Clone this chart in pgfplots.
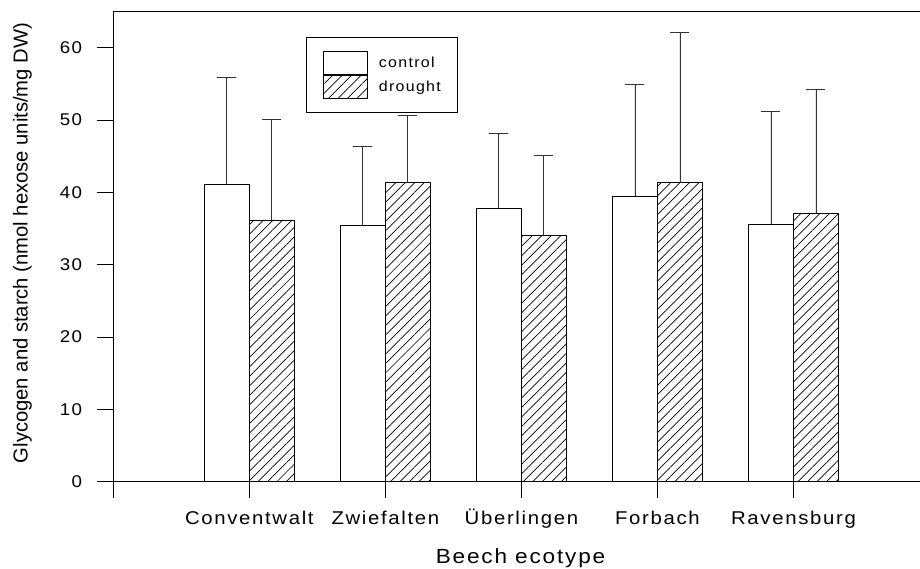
\documentclass[border=0pt]{standalone}
\usepackage{fontspec}
\setmainfont{Liberation Sans}
\newfontfamily\wfont{Liberation Sans}[FakeStretch=1.1, LetterSpace=9]
\usepackage{pgfplots}
\usepackage{pgfplotstable}
\pgfplotsset{compat=1.18}
\usetikzlibrary{patterns.meta}

\pgfplotstableread{
x y e
1 41.12 14.74
2 35.49 10.92
3 37.84 10.27
4 39.50 15.35
5 35.63 15.62
}\control
\pgfplotstableread{
x y e
1 36.18 13.92
2 41.34 9.31
3 34.06 11.01
4 41.34 20.79
5 37.11 17.09
}\drought

\begin{document}
\begin{tikzpicture}
\path[use as bounding box] (0pt,0pt) rectangle (920pt,569pt);
\begin{axis}[
  at={(113.3pt,87.3pt)}, anchor=south west,
  scale only axis, width=806.7pt, height=470.7pt,
  xmin=0, xmax=5.93, ymin=0, ymax=65.07,
  axis x line=box, axis y line*=left,
  xtick pos=bottom, ytick pos=left,
  axis line style={line width=0.9pt, black},
  tick align=outside,
  major tick length=16pt,
  tick style={line width=0.9pt, black},
  xtick={0,1,2,3,4,5},
  xticklabels={{},Conventwalt,Zwiefalten,Überlingen,Forbach,Ravensburg},
  ytick={0,10,20,30,40,50,60},
  /pgf/number format/assume math mode=true,
  yticklabel style={font=\wfont\fontsize{17}{17}\selectfont, inner sep=0pt, xshift=-15pt},
  xticklabel style={font=\wfont\fontsize{18.5}{19}\selectfont, anchor=base, inner sep=0pt, yshift=-27pt},
  xlabel={Beech ecotype},
  ylabel={Glycogen and starch (nmol hexose units/mg DW)},
  xlabel style={at={(axis description cs:0.5048,-0.1734)}, anchor=base, inner sep=0pt, font=\wfont\fontsize{20.5}{21}\selectfont},
  ylabel style={at={(axis description cs:-0.1061,0.507)}, anchor=base, inner sep=0pt, font=\fontsize{20.2}{21}\selectfont},
  ybar=0pt, bar width=45pt,
  legend style={at={(0.2389,0.9454)}, anchor=north west, draw=black, line width=0.8pt,
    inner xsep=17pt, inner ysep=14pt, row sep=0pt, column sep=10.7pt,
    font=\wfont\fontsize{14.5}{15}\selectfont, cells={anchor=west},
    nodes={inner sep=0pt}},
  legend image code/.code={\draw[#1, line width=0.8pt] (0pt,-11.5pt) rectangle (44pt,11.5pt);},
]
\addplot[draw=black, fill=white, line width=0.8pt,
  error bars/.cd, y dir=plus, y explicit,
  error bar style={line width=0.9pt, black!80},
  error mark options={rotate=90, mark size=9.5pt, line width=0.9pt, black!80}]
  table[x=x, y=y, y error=e]{\control};
\addplot[draw=black, pattern={Lines[angle=45,distance=6.7pt,line width=0.7pt]}, pattern color=black, line width=0.8pt,
  error bars/.cd, y dir=plus, y explicit,
  error bar style={line width=0.9pt, black!80},
  error mark options={rotate=90, mark size=9.5pt, line width=0.9pt, black!80}]
  table[x=x, y=y, y error=e]{\drought};
\legend{control, drought}
\end{axis}
\end{tikzpicture}
\end{document}
